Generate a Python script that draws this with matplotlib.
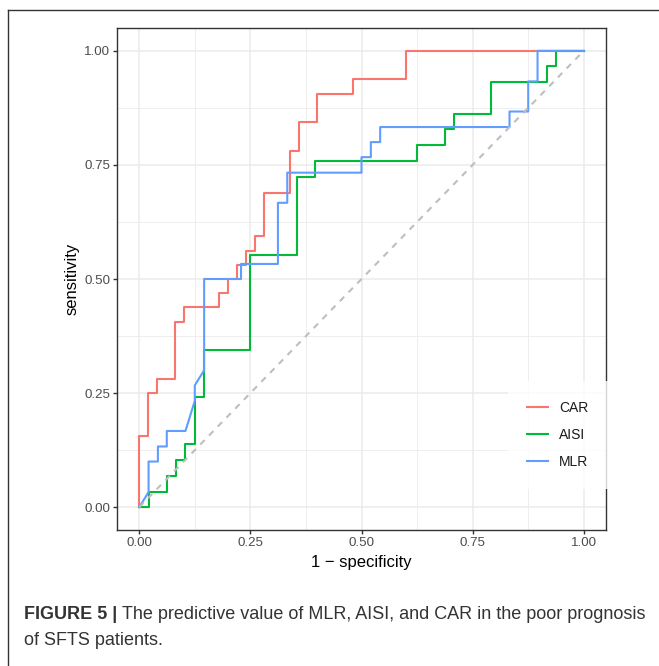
import matplotlib
matplotlib.use("Agg")
import matplotlib.pyplot as plt
from matplotlib.lines import Line2D
from matplotlib.ticker import MultipleLocator

plt.rcParams['font.family'] = ['Liberation Sans', 'DejaVu Sans']

# ROC path points (1 - specificity, sensitivity)
car_fpr = [0, 0, 0.02, 0.02, 0.04, 0.04, 0.08, 0.08, 0.10, 0.10, 0.18, 0.18, 0.20, 0.20,
           0.22, 0.22, 0.24, 0.24, 0.26, 0.26, 0.28, 0.28, 0.34, 0.34, 0.36, 0.36, 0.40,
           0.40, 0.48, 0.48, 0.60, 0.60, 1.00]
car_tpr = [0, 0.156, 0.156, 0.25, 0.25, 0.281, 0.281, 0.406, 0.406, 0.438, 0.438, 0.469,
           0.469, 0.5, 0.5, 0.531, 0.531, 0.562, 0.562, 0.594, 0.594, 0.688, 0.688, 0.781,
           0.781, 0.844, 0.844, 0.906, 0.906, 0.938, 0.938, 1.0, 1.0]

aisi_fpr = [0, 0.021, 0.021, 0.062, 0.062, 0.083, 0.083, 0.104, 0.104, 0.125, 0.125, 0.146,
            0.146, 0.25, 0.25, 0.354, 0.354, 0.396, 0.396, 0.625, 0.625, 0.688, 0.688, 0.708,
            0.708, 0.792, 0.792, 0.917, 0.917, 0.938, 0.938, 1.0]
aisi_tpr = [0, 0, 0.034, 0.034, 0.069, 0.069, 0.103, 0.103, 0.138, 0.138, 0.241, 0.241,
            0.345, 0.345, 0.552, 0.552, 0.724, 0.724, 0.759, 0.759, 0.793, 0.793, 0.828,
            0.828, 0.862, 0.862, 0.931, 0.931, 0.966, 0.966, 1.0, 1.0]

mlr_fpr = [0, 0.021, 0.021, 0.042, 0.042, 0.062, 0.062, 0.104, 0.125, 0.125, 0.146, 0.146,
           0.229, 0.229, 0.312, 0.312, 0.333, 0.333, 0.5, 0.5, 0.521, 0.521, 0.542, 0.542,
           0.833, 0.833, 0.875, 0.875, 0.896, 0.896, 1.0]
mlr_tpr = [0, 0.033, 0.1, 0.1, 0.133, 0.133, 0.167, 0.167, 0.233, 0.267, 0.3, 0.5, 0.5,
           0.533, 0.533, 0.667, 0.667, 0.733, 0.733, 0.767, 0.767, 0.8, 0.8, 0.833, 0.833,
           0.867, 0.867, 0.933, 0.933, 1.0, 1.0]

labels = ['CAR', 'AISI', 'MLR']
colors = ['#F8766D', '#00BA38', '#619CFF']
ticks = [0.00, 0.25, 0.50, 0.75, 1.00]

W, H = 659, 666
fig = plt.figure(figsize=(W / 100, H / 100), dpi=100)

# frame around the figure panel
fig.add_artist(Line2D([8 / W, 8 / W], [0, 1 - 10 / H], color='#333333', lw=1.0))
fig.add_artist(Line2D([8 / W, 1], [1 - 10 / H, 1 - 10 / H], color='#333333', lw=1.0))

ax = fig.add_axes([117 / W, 1 - 530 / H, (606 - 117) / W, (530 - 28) / H])

for fpr, tpr, lab, col in zip([car_fpr, aisi_fpr, mlr_fpr], [car_tpr, aisi_tpr, mlr_tpr],
                              labels, colors):
    ax.plot(fpr, tpr, color=col, lw=1.5, label=lab, zorder=3)
ax.plot([0, 1], [0, 1], color='#BEBEBE', lw=1.5, ls=(0, (3, 3)), zorder=4)

ax.set_xlim(-0.05, 1.05)
ax.set_ylim(-0.05, 1.05)
ax.set_xticks(ticks)
ax.set_yticks(ticks)
ax.set_xticklabels([f'{t:.2f}' for t in ticks])
ax.set_yticklabels([f'{t:.2f}' for t in ticks])
ax.xaxis.set_minor_locator(MultipleLocator(0.125))
ax.yaxis.set_minor_locator(MultipleLocator(0.125))
ax.grid(which='major', color='#EBEBEB', lw=1.1, zorder=0)
ax.grid(which='minor', color='#EBEBEB', lw=0.6, zorder=0)
ax.set_axisbelow(True)
ax.tick_params(which='major', length=3, width=1.0, color='#333333', labelsize=9.6,
               labelcolor='#4D4D4D', pad=2)
ax.tick_params(which='minor', length=0)
for s in ax.spines.values():
    s.set_color('#333333')
    s.set_linewidth(1.0)

ax.set_xlabel('1 \u2212 specificity', fontsize=12, labelpad=4)
ax.set_ylabel('sensitivity', fontsize=12, labelpad=3.5)

leg = ax.legend(loc='center', bbox_to_anchor=(558 / W, 1 - 435 / H),
                bbox_transform=fig.transFigure, frameon=True, fontsize=10,
                handlelength=1.5, handletextpad=0.8, labelspacing=0.95, borderpad=1.4,
                fancybox=False)
leg.get_frame().set_facecolor('white')
leg.get_frame().set_edgecolor('none')
for t in leg.get_texts():
    t.set_color('#1A1A1A')

# caption with bold lead-in
cap_fs = 13
y1 = 1 - 619 / H
t1 = fig.text(24 / W, y1, 'FIGURE 5 | ', fontsize=cap_fs, fontweight='bold',
              color='#333333', va='baseline')
fig.canvas.draw()
bb = t1.get_window_extent(renderer=fig.canvas.get_renderer())
fig.text(bb.x1 / W, y1, 'The predictive value of MLR, AISI, and CAR in the poor prognosis',
         fontsize=cap_fs, color='#333333', va='baseline')
fig.text(24 / W, 1 - 645 / H, 'of SFTS patients.', fontsize=cap_fs, color='#333333',
         va='baseline')

fig.savefig('out.png', dpi=100)
